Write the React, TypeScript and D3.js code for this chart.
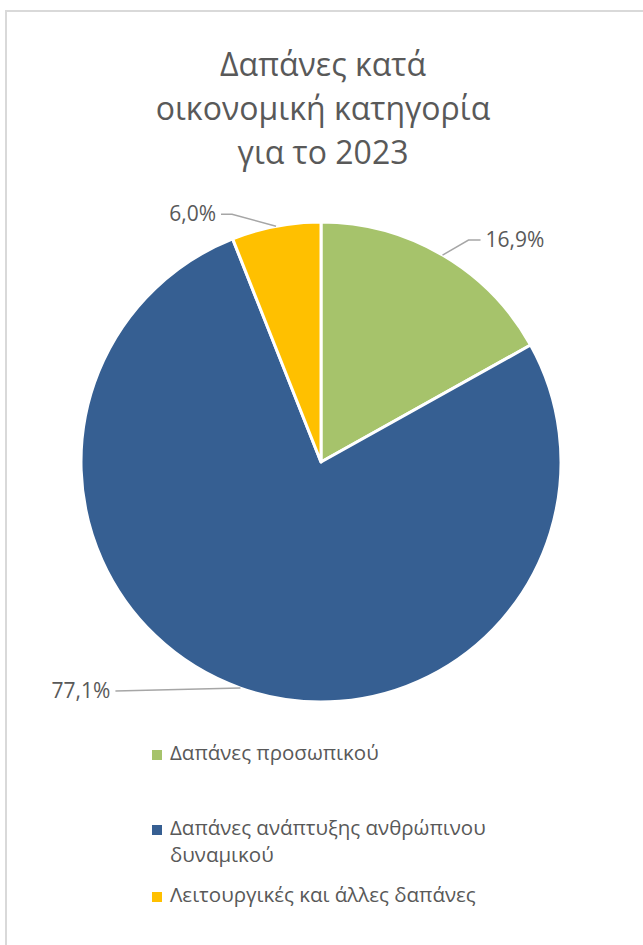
import React from "react";
import * as d3 from "d3";

const categories = [
  "Δαπάνες προσωπικού",
  "Δαπάνες ανάπτυξης ανθρώπινου δυναμικού",
  "Λειτουργικές και άλλες δαπάνες",
];
const values = [16.9, 77.1, 6.0];
const valueLabels = ["16,9%", "77,1%", "6,0%"];
const colors = ["#A6C36B", "#365F92", "#FFC000"];
const titleLines = ["Δαπάνες κατά", "οικονομική κατηγορία", "για το 2023"];
const legendLines = [["Δαπάνες προσωπικού"], ["Δαπάνες ανάπτυξης ανθρώπινου", "δυναμικού"], ["Λειτουργικές και άλλες δαπάνες"]];

const W = 643;
const H = 945;
const FONT = "'Open Sans', 'Noto Sans', sans-serif";
const TEXT = "#595959";

// leader layout per slice: elbow offset from anchor, horizontal run, side
const leaderLayout = [
  { ex: 26, ey: -15, run: 12, side: 1 },
  { ex: -125, ey: 3, run: 0, side: -1 },
  { ex: -44, ey: -12, run: 11, side: -1 },
];

export default function App() {
  const cx = 321;
  const cy = 462;
  const r = 240;
  const pie = d3.pie<number>().sort(null).value((d) => d)(values);
  const arc = d3.arc<d3.PieArcDatum<number>>().innerRadius(0).outerRadius(r);

  return (
    <svg width={W} height={H} style={{ position: "absolute", left: 0, top: 0 }} fontFamily={FONT}>
      <rect x={0} y={0} width={W} height={H} fill="#fff" />
      <rect x={6} y={11} width={W + 20} height={H + 20} fill="#fff" stroke="#D9D9D9" strokeWidth={2} />
      {titleLines.map((t, i) => (
        <text key={i} x={323} y={76 + i * 44} textAnchor="middle" fontSize={32} fill={TEXT}>
          {t}
        </text>
      ))}
      <g transform={`translate(${cx},${cy})`}>
        {pie.map((p, i) => (
          <path key={i} d={arc(p) || ""} fill={colors[i]} stroke="#fff" strokeWidth={3} strokeLinejoin="round" />
        ))}
      </g>
      {pie.map((p, i) => {
        const mid = (p.startAngle + p.endAngle) / 2;
        const ax = cx + r * Math.sin(mid);
        const ay = cy - r * Math.cos(mid);
        const L = leaderLayout[i];
        const bx = ax + L.ex;
        const by = ay + L.ey;
        const ex = bx + L.side * L.run;
        const tx = ex + L.side * 5;
        return (
          <g key={i}>
            <polyline
              points={`${ax},${ay} ${bx},${by} ${ex},${by}`}
              fill="none"
              stroke="#A6A6A6"
              strokeWidth={1.5}
            />
            <text
              x={tx}
              y={by + 7}
              textAnchor={L.side > 0 ? "start" : "end"}
              fontSize={21}
              fill={TEXT}
            >
              {valueLabels[i]}
            </text>
          </g>
        );
      })}
      {categories.map((c, i) => {
        const baseY = [760, 835, 902][i];
        return (
          <g key={c}>
            <rect x={152} y={baseY - 10} width={10} height={10} fill={colors[i]} />
            {legendLines[i].map((ln, j) => (
              <text key={j} x={170} y={baseY + j * 27} fontSize={20.5} fill={TEXT}>
                {ln}
              </text>
            ))}
          </g>
        );
      })}
    </svg>
  );
}
